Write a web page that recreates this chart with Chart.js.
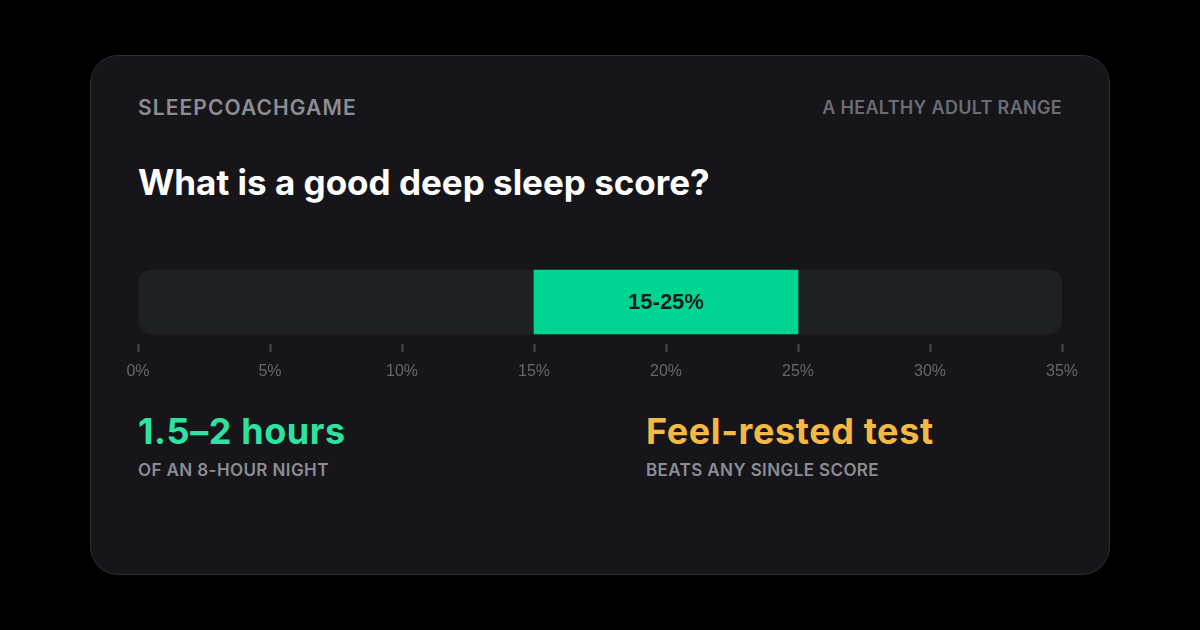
<!DOCTYPE html>
<html>
<head>
<meta charset="utf-8">
<script src="https://cdn.jsdelivr.net/npm/chart.js@4"></script>
<style>
  html, body { margin: 0; padding: 0; background: #000; width: 1200px; height: 630px; overflow: hidden; }
  .card {
    position: absolute; left: 90px; top: 55px; width: 1018px; height: 518px;
    background: #16161a; border: 1.5px solid #2c2c32; border-radius: 28px;
  }
  .txt { position: absolute; white-space: nowrap; font-family: Inter, "Noto Sans", sans-serif; }
  .brand { left: 138px; top: 95px; font-size: 21px; font-weight: 600; color: #8d8c94; letter-spacing: 1.1px; }
  .range { right: 138px; top: 97px; font-size: 18px; font-weight: 600; color: #6d6c74; letter-spacing: 0.3px; }
  .title { left: 138px; top: 161px; font-size: 35px; font-weight: 700; color: #fff; }
  .stat { top: 409px; font-size: 36px; font-weight: 700; letter-spacing: 0.6px; }
  .sub { top: 460px; font-size: 17px; font-weight: 600; color: #8d8c94; letter-spacing: 0.4px; }
  #wrap { position: absolute; left: 120px; top: 250px; width: 960px; height: 140px; }
</style>
</head>
<body>
<div class="card"></div>
<div class="txt brand">SLEEPCOACHGAME</div>
<div class="txt range">A HEALTHY ADULT RANGE</div>
<div class="txt title">What is a good deep sleep score?</div>
<div class="txt stat" style="left:138px;color:#2ee3a1">1.5–2 hours</div>
<div class="txt sub" style="left:138px">OF AN 8-HOUR NIGHT</div>
<div class="txt stat" style="left:646px;color:#f4b942">Feel-rested test</div>
<div class="txt sub" style="left:646px">BEATS ANY SINGLE SCORE</div>
<div id="wrap"><canvas id="c"></canvas></div>
<script>
// data
const categories = ['Deep sleep'];
const scaleRange = [0, 35];
const healthyRange = [15, 25];
const healthyLabel = '15-25%';
const tickStep = 5;

const barLabelPlugin = {
  id: 'barLabel',
  afterDatasetsDraw(chart) {
    const bar = chart.getDatasetMeta(1).data[0];
    if (!bar) return;
    const ctx = chart.ctx;
    ctx.save();
    ctx.font = 'bold 22px "Liberation Sans", Arial, sans-serif';
    ctx.fillStyle = '#0f1d16';
    ctx.textAlign = 'center';
    ctx.textBaseline = 'middle';
    ctx.fillText(healthyLabel, (bar.x + bar.base) / 2, bar.y + 1);
    ctx.restore();
  }
};

new Chart(document.getElementById('c'), {
  type: 'bar',
  data: {
    labels: categories,
    datasets: [
      {
        label: 'Scale',
        data: [scaleRange],
        backgroundColor: '#1f2024',
        borderRadius: 14,
        borderSkipped: false,
        grouped: false,
        barThickness: 64,
        order: 2
      },
      {
        label: 'Healthy range',
        data: [healthyRange],
        backgroundColor: '#00d492',
        borderRadius: 0,
        grouped: false,
        barThickness: 64,
        order: 1
      }
    ]
  },
  plugins: [barLabelPlugin],
  options: {
    indexAxis: 'y',
    responsive: true,
    maintainAspectRatio: false,
    animation: false,
    layout: { padding: { left: 18, right: 18, top: 10, bottom: 0 } },
    plugins: { legend: { display: false }, tooltip: { enabled: false } },
    scales: {
      y: { display: false },
      x: {
        min: scaleRange[0],
        max: scaleRange[1],
        afterFit(scale) {
          scale.height = 46;
          scale.paddingLeft = 0;
          scale.paddingRight = 0;
        },
        border: { display: false },
        grid: { drawOnChartArea: false, drawTicks: true, tickLength: 8, tickWidth: 2, tickColor: '#4a4950' },
        ticks: {
          stepSize: tickStep,
          padding: 10,
          color: '#66656d',
          font: { family: '"Liberation Sans", Arial, sans-serif', size: 16 },
          callback: v => v + '%'
        }
      }
    }
  }
});
</script>
</body>
</html>
